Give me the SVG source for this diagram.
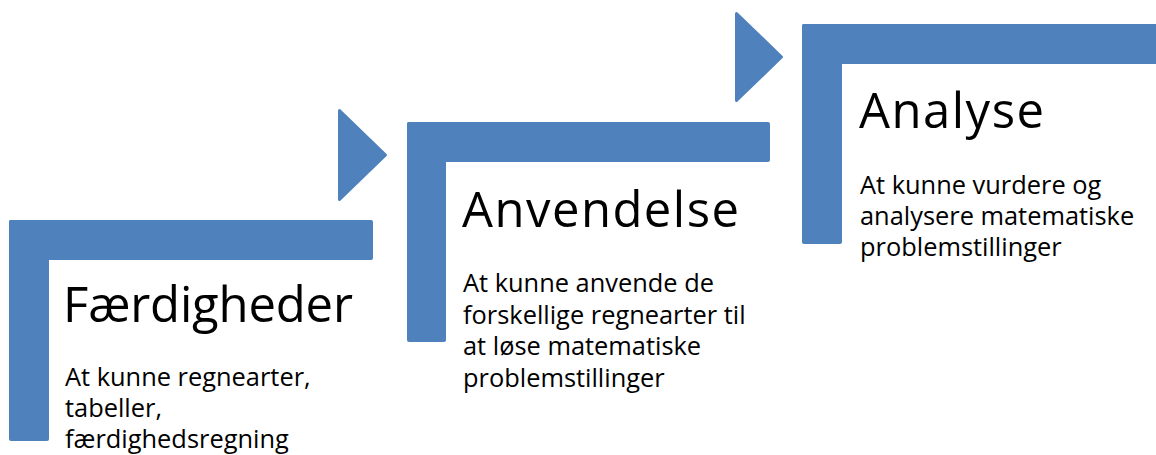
<svg xmlns="http://www.w3.org/2000/svg" width="1156" height="455" viewBox="0 0 1156 455">
<style>
.bar{fill:#4F81BD}
.arr{fill:#4F81BD;stroke:#4F81BD;stroke-width:3;stroke-linejoin:round}
.title{font-family:"Open Sans","Noto Sans",sans-serif;font-size:49px;fill:#000}
.body{font-family:"Open Sans","Noto Sans",sans-serif;font-size:25.4px;fill:#000}
</style>
<rect width="1156" height="455" fill="#fff"/>
<g id="connectors">
<path class="arr" d="M339.5,110.5 L385.5,155 L339.5,199.5 Z"/>
<path class="arr" d="M736.5,13.5 L781.5,57 L736.5,100.5 Z"/>
</g>
<g id="node-faerdigheder">
<rect class="bar" x="9" y="220" width="364" height="40" rx="2"/>
<rect class="bar" x="9" y="220" width="40" height="221" rx="2"/>
<text class="title" x="63" y="322" textLength="290">Færdigheder</text>
<text class="body" x="65" y="385.5">At kunne regnearter,</text>
<text class="body" x="65" y="416.5">tabeller,</text>
<text class="body" x="65" y="447.5">færdighedsregning</text>
</g>
<g id="node-anvendelse">
<rect class="bar" x="407" y="122" width="363" height="40" rx="2"/>
<rect class="bar" x="407" y="122" width="39" height="220" rx="2"/>
<text class="title" x="462" y="227" textLength="277">Anvendelse</text>
<text class="body" x="463" y="292">At kunne anvende de</text>
<text class="body" x="463" y="323.5">forskellige regnearter til</text>
<text class="body" x="463" y="355">at løse matematiske</text>
<text class="body" x="463" y="386.5">problemstillinger</text>
</g>
<g id="node-analyse">
<rect class="bar" x="802" y="24" width="360" height="40" rx="2"/>
<rect class="bar" x="802" y="24" width="40" height="220" rx="2"/>
<text class="title" x="859" y="128" textLength="185">Analyse</text>
<text class="body" x="860" y="193.5">At kunne vurdere og</text>
<text class="body" x="860" y="224.5">analysere matematiske</text>
<text class="body" x="860" y="255.5">problemstillinger</text>
</g>
</svg>
